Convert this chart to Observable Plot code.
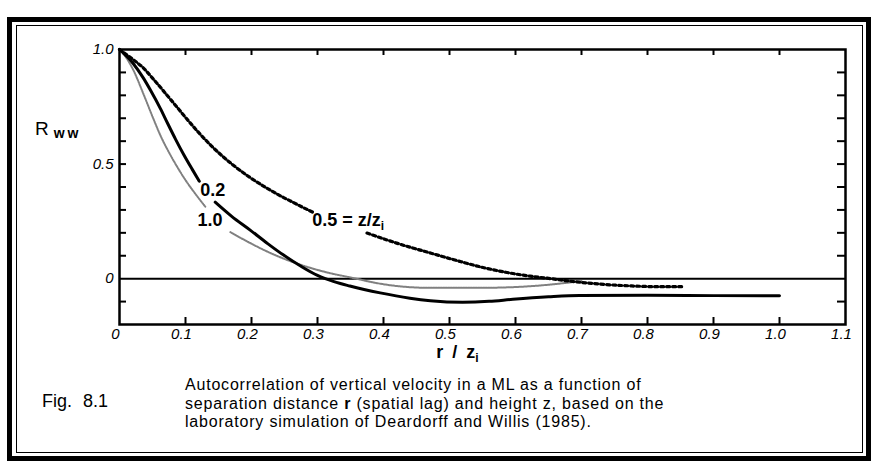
<!DOCTYPE html>
<html>
<head>
<meta charset="utf-8">
<script src="https://cdn.jsdelivr.net/npm/d3@7"></script>
<script src="https://cdn.jsdelivr.net/npm/@observablehq/plot@0.6"></script>
<style>
  body { margin: 0; background: #fff; }
  #wrap { position: relative; width: 871px; height: 467px; overflow: hidden; background: #fff; font-family: "Liberation Sans", Arial, sans-serif; color: #000; }
  #chart { position: absolute; left: 0; top: 0; }
  .outer { position: absolute; left: 7px; top: 17px; width: 864px; height: 444px; border: 5px solid #000; box-sizing: border-box; }
  .inner { position: absolute; left: 15.5px; top: 25px; width: 847px; height: 428px; border: 1.5px solid #000; box-sizing: border-box; }
  .ylab { position: absolute; left: 35px; top: 118px; font-size: 19px; white-space: nowrap; }
  .ylab sub { font-size: 14px; font-weight: bold; letter-spacing: 3px; vertical-align: -3px; margin-left: 5px; }
  .fig { position: absolute; left: 42px; top: 391px; font-size: 18px; word-spacing: 6px; white-space: nowrap; }
  .cap { position: absolute; left: 185px; top: 376px; font-size: 16px; letter-spacing: 0.8px; line-height: 18.5px; white-space: nowrap; }
</style>
</head>
<body>
<div id="wrap">
  <div id="chart"></div>
  <div class="outer"></div>
  <div class="inner"></div>
  <div class="ylab">R<sub>ww</sub></div>
  <div class="fig">Fig. 8.1</div>
  <div class="cap">Autocorrelation of vertical velocity in a ML as a function of<br>separation distance <b>r</b> (spatial lag) and height z, based on the<br>laboratory simulation of Deardorff and Willis (1985).</div>
</div>
<script>
// ---- data ----
// z/zi = 0.2 (solid), two pieces around its label
const r02a = [0, 0.021, 0.036, 0.047, 0.062, 0.073, 0.085, 0.097, 0.11, 0.121];
const R02a = [1.0, 0.938, 0.876, 0.822, 0.742, 0.677, 0.608, 0.543, 0.478, 0.425];
const r02b = [0.145, 0.17, 0.198, 0.225, 0.248, 0.275, 0.3, 0.325, 0.349, 0.395, 0.44, 0.471, 0.52, 0.56, 0.596, 0.65, 0.697, 0.8, 0.9, 1.0];
const R02b = [0.334, 0.272, 0.212, 0.152, 0.104, 0.054, 0.014, -0.013, -0.032, -0.062, -0.085, -0.096, -0.103, -0.099, -0.09, -0.079, -0.073, -0.072, -0.074, -0.075];
// z/zi = 1.0 (grey)
const r10a = [0, 0.01, 0.021, 0.035, 0.051, 0.062, 0.074, 0.087, 0.1, 0.115, 0.13];
const R10a = [1.0, 0.965, 0.91, 0.815, 0.70, 0.625, 0.556, 0.49, 0.43, 0.37, 0.314];
const r10b = [0.168, 0.195, 0.224, 0.263, 0.3, 0.319, 0.349, 0.395, 0.43, 0.471, 0.546, 0.622, 0.672, 0.70];
const R10b = [0.203, 0.16, 0.118, 0.072, 0.038, 0.024, 0.006, -0.022, -0.035, -0.040, -0.040, -0.033, -0.02, -0.01];
// z/zi = 0.5 (dotted)
const r05a = [0, 0.021, 0.036, 0.05, 0.062, 0.073, 0.085, 0.097, 0.11, 0.123, 0.138, 0.155, 0.172, 0.198, 0.224, 0.248, 0.263, 0.28, 0.295];
const R05a = [1.0, 0.955, 0.92, 0.875, 0.835, 0.797, 0.756, 0.714, 0.670, 0.628, 0.583, 0.537, 0.496, 0.441, 0.394, 0.355, 0.333, 0.308, 0.287];
const r05b = [0.375, 0.42, 0.471, 0.51, 0.546, 0.585, 0.622, 0.648, 0.68, 0.72, 0.77, 0.82, 0.853];
const R05b = [0.199, 0.155, 0.112, 0.080, 0.052, 0.028, 0.011, 0.002, -0.010, -0.022, -0.031, -0.035, -0.035];
// curve labels
const labelText = ["0.2", "1.0", "0.5 = z/z"];
const labelR = [0.1225, 0.118, 0.292];
const labelRww = [0.386, 0.255, 0.256];
// ticks
const xTickLabels = [0, 0.1, 0.2, 0.3, 0.4, 0.5, 0.6, 0.7, 0.8, 0.9, 1.0, 1.1];
const xTickMarks = [0.1, 0.2, 0.3, 0.4, 0.5, 0.6, 0.7, 0.8, 0.9, 1.0];
const yTickLabels = [1.0, 0.5, 0];
const yTickMarks = [-0.1, 0.1, 0.2, 0.3, 0.4, 0.5, 0.6, 0.7, 0.8, 0.9];

function rows(rs, Rs, seg) { return rs.map((r, i) => ({r, R: Rs[i], seg})); }
const c02 = rows(r02a, R02a, "a").concat(rows(r02b, R02b, "b"));
const c10 = rows(r10a, R10a, "a").concat(rows(r10b, R10b, "b"));
const c05 = rows(r05a, R05a, "a").concat(rows(r05b, R05b, "b"));
const labels = labelText.map((t, i) => ({t, r: labelR[i], R: labelRww[i]}));

const W = 871, H = 370, mL = 119, mR = 26, mT = 49, mB = 46;
const fw = W - mL - mR, fh = H - mT - mB;
const fmtX = d => d === 0 ? "0" : d.toFixed(1);
const fmtY = d => d === 0 ? "0" : d.toFixed(1);

const chart = Plot.plot({
  width: W, height: H,
  marginLeft: mL, marginRight: mR, marginTop: mT, marginBottom: mB,
  style: {background: "transparent", fontFamily: "'Liberation Sans', Arial, sans-serif", color: "#000"},
  x: {domain: [0, 1.1], axis: null},
  y: {domain: [-0.2, 1.0], axis: null},
  marks: [
    Plot.ruleY([0], {stroke: "#000", strokeWidth: 2}),
    Plot.tickX(xTickMarks, {x: d => d, insetTop: fh - 7, stroke: "#000", strokeWidth: 2}),
    Plot.tickX(xTickMarks, {x: d => d, insetBottom: fh - 6, stroke: "#000", strokeWidth: 2}),
    Plot.tickY(yTickMarks, {y: d => d, insetRight: fw - 7, stroke: "#000", strokeWidth: 2}),
    Plot.tickY(yTickMarks, {y: d => d, insetLeft: fw - 8, stroke: "#000", strokeWidth: 2}),
    Plot.line(c10, {x: "r", y: "R", z: "seg", curve: "monotone-x", stroke: "#808080", strokeWidth: 2, strokeDasharray: "1.5,1"}),
    Plot.line(c05, {x: "r", y: "R", z: "seg", curve: "monotone-x", stroke: "#000", strokeWidth: 3.2, strokeDasharray: "3,3"}),
    Plot.line(c02, {x: "r", y: "R", z: "seg", curve: "monotone-x", stroke: "#000", strokeWidth: 3}),
    Plot.text(labels, {x: "r", y: "R", text: "t", textAnchor: "start", fontSize: 18, fontWeight: "bold", fill: "#000"}),
    Plot.text(xTickLabels, {x: d => d, frameAnchor: "bottom", dy: 14, dx: -4, text: fmtX, fontSize: 15, fontStyle: "italic", fill: "#000"}),
    Plot.text(yTickLabels, {y: d => d, frameAnchor: "left", dx: -6, textAnchor: "end", text: fmtY, fontSize: 15, fontStyle: "italic", fill: "#000"}),
    Plot.text(["r / z"], {frameAnchor: "bottom", dy: 33, dx: -25, text: d => d, fontSize: 18, fontWeight: "bold", fill: "#000"}),
    Plot.frame({stroke: "#000", strokeWidth: 2.5})
  ]
});
document.getElementById("chart").appendChild(chart);

// add subscripts
d3.select(chart).selectAll("text").each(function() {
  const t = this.textContent;
  if (t === "0.5 = z/z" || t === "r / z") {
    d3.select(this).append("tspan").attr("dy", 4).attr("font-size", 12).text("i");
    if (t === "r / z") d3.select(this).style("word-spacing", "4px");
  }
});
</script>
</body>
</html>
